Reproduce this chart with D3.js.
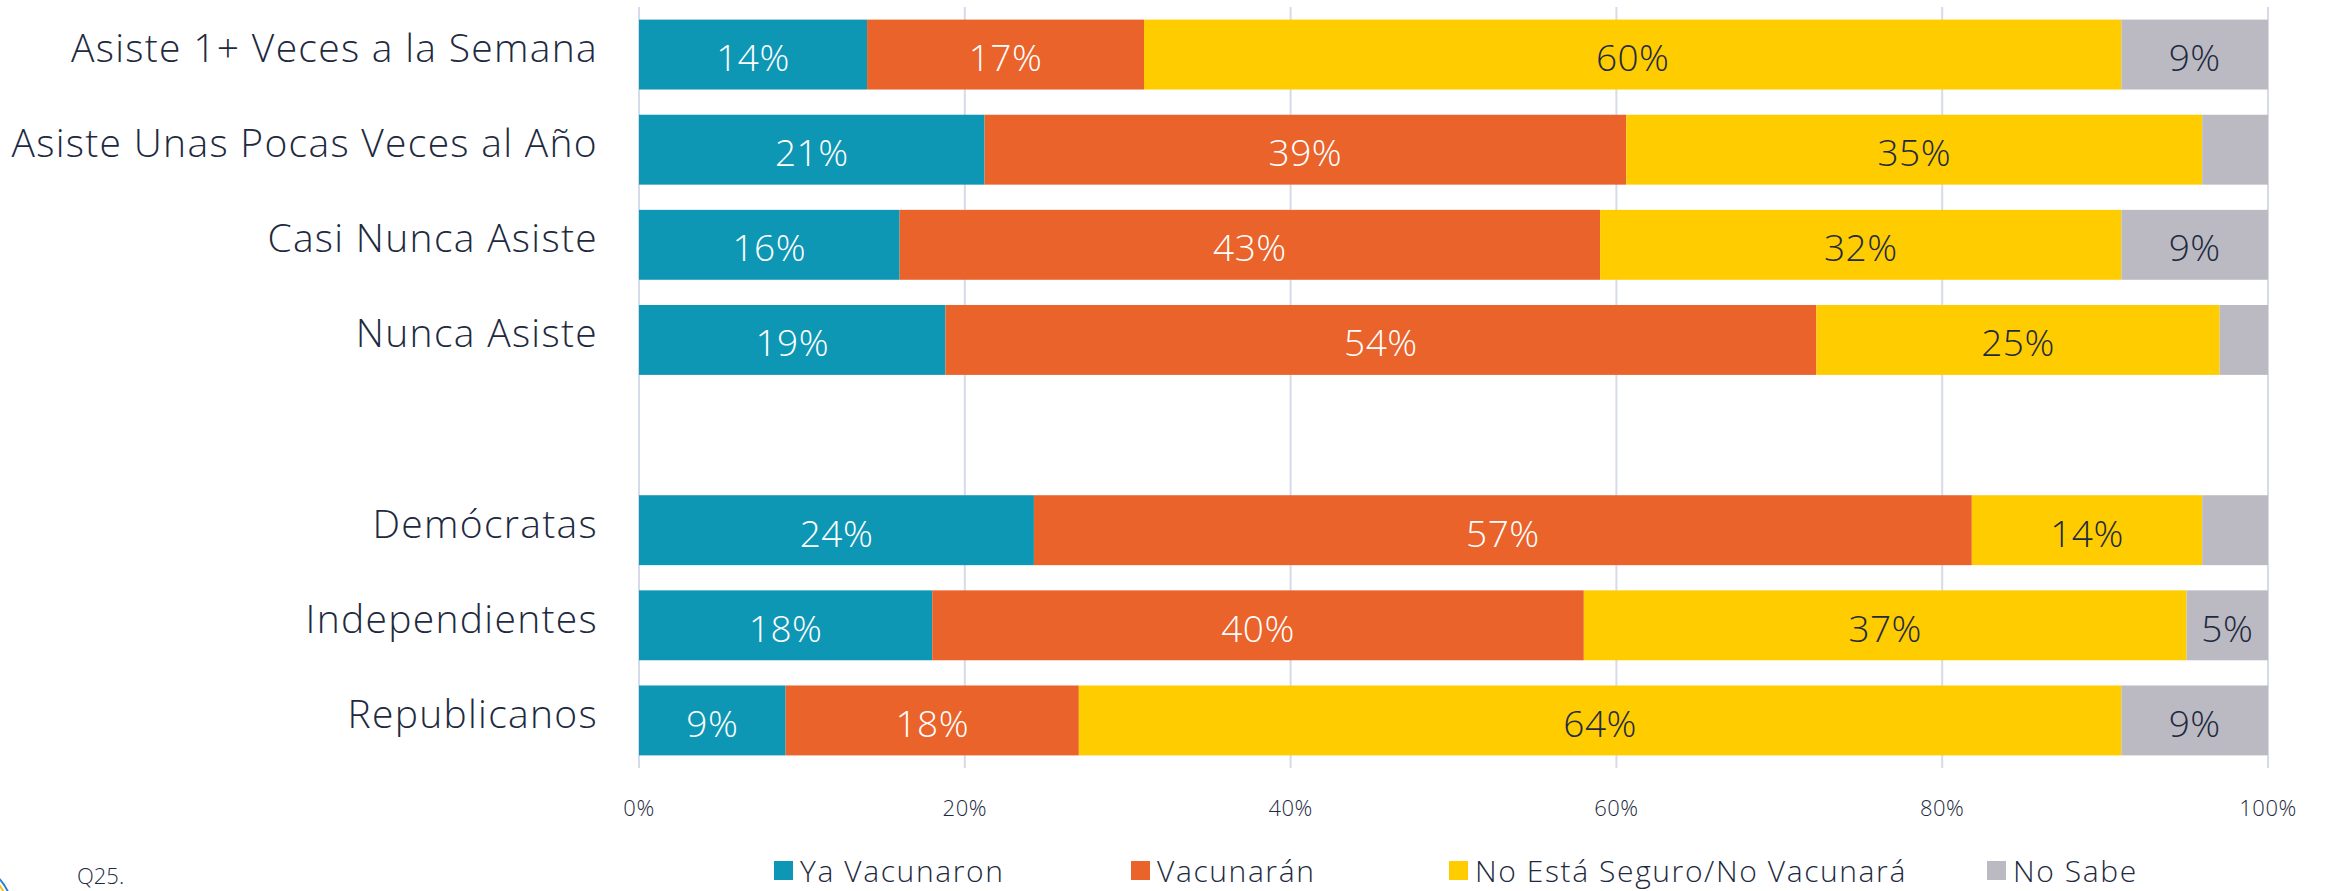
<!DOCTYPE html>
<html>
<head>
<meta charset="utf-8">
<script src="https://cdn.jsdelivr.net/npm/d3@7"></script>
<style>
  body { margin: 0; background: #fff; }
  svg { display: block; font-family: "Open Sans", sans-serif; }
</style>
</head>
<body>
<script>
// categories, top to bottom ("" is the empty gap row)
var categories = ["Asiste 1+ Veces a la Semana", "Asiste Unas Pocas Veces al Año", "Casi Nunca Asiste", "Nunca Asiste", "",
    "Demócratas", "Independientes", "Republicanos"];

var seriesNames = ["Ya Vacunaron", "Vacunarán", "No Está Seguro/No Vacunará", "No Sabe"];
var seriesColors = ["#0d97b4", "#e9632b", "#ffcc00", "#bbbac3"];
var labelColors = ["#ffffff", "#ffffff", "#1e2a40", "#1e2a40"];

var yaVacunaron = [14, 21, 16, 19, null, 24, 18, 9];
var vacunaran   = [17, 39, 43, 54, null, 57, 40, 18];
var noSeguro    = [60, 35, 32, 25, null, 14, 37, 64];
var noSabe      = [9, 4, 9, 3, null, 4, 5, 9];

var tickValues = [0, 0.2, 0.4, 0.6, 0.8, 1];

var width = 2325, height = 891;
var margin = { top: 7, left: 639, right: 57, bottom: 123 };

var svg = d3.select("body").append("svg")
    .attr("width", width)
    .attr("height", height);

var x = d3.scaleLinear()
    .domain([0, 1])
    .range([margin.left, width - margin.right]);

var y = d3.scaleBand()
    .domain(categories.map(function (d, i) { return i; }))
    .range([margin.top, height - margin.bottom])
    .paddingInner(0.265)
    .paddingOuter(0.1325);

// build 100% stacked rows
var rows = categories.map(function (c, i) {
    return { idx: i, name: c, vals: [yaVacunaron[i], vacunaran[i], noSeguro[i], noSabe[i]] };
}).filter(function (r) { return r.vals[0] != null; });

var segs = [];
rows.forEach(function (r) {
    var total = d3.sum(r.vals), acc = 0;
    r.vals.forEach(function (v, k) {
        segs.push({ idx: r.idx, k: k, v: v, x0: acc / total, x1: (acc + v) / total });
        acc += v;
    });
});

// gridlines
svg.append("g").selectAll("line")
    .data(tickValues)
    .enter().append("line")
    .attr("x1", function (d) { return x(d); })
    .attr("x2", function (d) { return x(d); })
    .attr("y1", margin.top)
    .attr("y2", height - margin.bottom)
    .attr("stroke", "#d5dbe8")
    .attr("stroke-width", 2);

// bars
svg.append("g").selectAll("rect")
    .data(segs)
    .enter().append("rect")
    .attr("x", function (d) { return x(d.x0); })
    .attr("width", function (d) { return x(d.x1) - x(d.x0); })
    .attr("y", function (d) { return y(d.idx); })
    .attr("height", y.bandwidth())
    .attr("fill", function (d) { return seriesColors[d.k]; });

// value labels
svg.append("g").selectAll("text")
    .data(segs.filter(function (d) { return d.v >= 5; }))
    .enter().append("text")
    .attr("x", function (d) { return (x(d.x0) + x(d.x1)) / 2; })
    .attr("y", function (d) { return y(d.idx) + y.bandwidth() / 2 + 2; })
    .attr("text-anchor", "middle")
    .attr("dominant-baseline", "central")
    .attr("font-size", 37)
    .attr("font-weight", 300)
    .attr("letter-spacing", 0.5)
    .attr("fill", function (d) { return labelColors[d.k]; })
    .text(function (d) { return d.v + "%"; });

// category labels
svg.append("g").selectAll("text")
    .data(rows)
    .enter().append("text")
    .attr("x", margin.left - 41)
    .attr("y", function (d) { return y(d.idx) + y.bandwidth() / 2 - 8; })
    .attr("text-anchor", "end")
    .attr("dominant-baseline", "central")
    .attr("font-size", 39)
    .attr("font-weight", 300)
    .attr("letter-spacing", 1.3)
    .attr("fill", "#1e2a40")
    .text(function (d) { return d.name; });

// x axis tick labels
svg.append("g").selectAll("text")
    .data(tickValues)
    .enter().append("text")
    .attr("x", function (d) { return x(d); })
    .attr("y", 807)
    .attr("text-anchor", "middle")
    .attr("dominant-baseline", "central")
    .attr("font-size", 22)
    .attr("font-weight", 300)
    .attr("letter-spacing", 0.5)
    .attr("fill", "#1e2a40")
    .text(function (d) { return Math.round(d * 100) + "%"; });

// legend
var legendX = [774, 1131, 1449, 1987];
var legend = svg.append("g").selectAll("g")
    .data(seriesNames)
    .enter().append("g")
    .attr("transform", function (d, i) { return "translate(" + legendX[i] + ",870)"; });

legend.append("rect")
    .attr("x", 0)
    .attr("y", -9)
    .attr("width", 19)
    .attr("height", 19)
    .attr("fill", function (d, i) { return seriesColors[i]; });

legend.append("text")
    .attr("x", 26)
    .attr("y", 0)
    .attr("dominant-baseline", "central")
    .attr("font-size", 30)
    .attr("font-weight", 300)
    .attr("letter-spacing", 1.6)
    .attr("fill", "#1e2a40")
    .text(function (d) { return d; });

// footnote
svg.append("text")
    .attr("x", 77)
    .attr("y", 875)
    .attr("dominant-baseline", "central")
    .attr("font-size", 22)
    .attr("font-weight", 300)
    .attr("fill", "#1e2a40")
    .text("Q25.");

// bit of the logo poking in at bottom left
svg.append("circle").attr("cx", -42).attr("cy", 915).attr("r", 55)
    .attr("fill", "none").attr("stroke", "#2f7fd0").attr("stroke-width", 2);
svg.append("circle").attr("cx", -42).attr("cy", 915).attr("r", 51)
    .attr("fill", "none").attr("stroke", "#f7c21b").attr("stroke-width", 2);
</script>
</body>
</html>
